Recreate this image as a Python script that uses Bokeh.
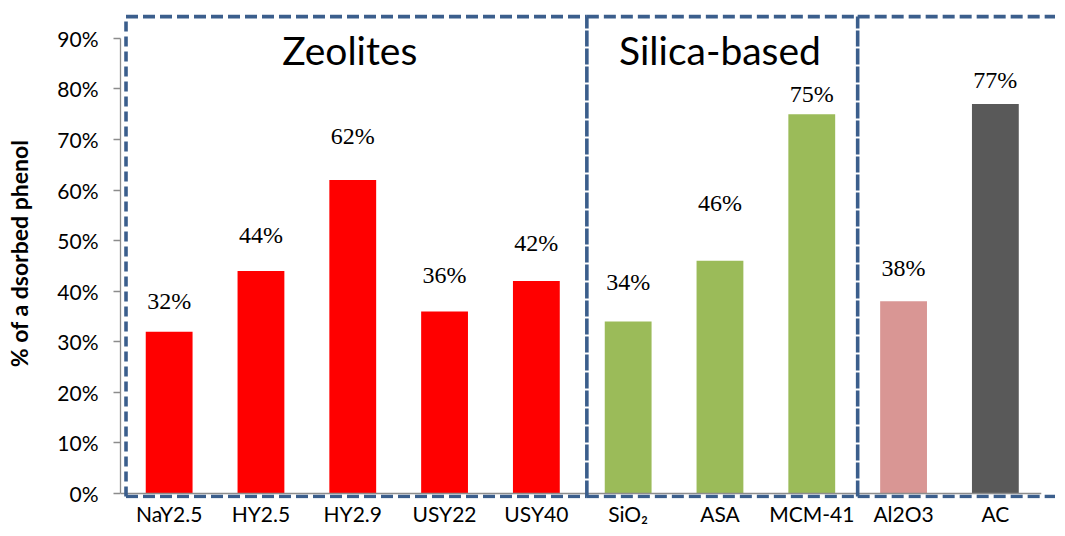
import numpy as np
from bokeh.plotting import figure
from bokeh.models import (Range1d, FixedTicker, NumeralTickFormatter,
                          ColumnDataSource, LabelSet, Label)
from bokeh.embed import file_html
from bokeh.resources import INLINE

# ---- data ----
categories = ["NaY2.5", "HY2.5", "HY2.9", "USY22", "USY40",
              "SiO\u2082", "ASA", "MCM-41", "Al2O3", "AC"]
values = [0.32, 0.44, 0.62, 0.36, 0.42, 0.34, 0.46, 0.75, 0.38, 0.77]
value_labels = ["32%", "44%", "62%", "36%", "42%", "34%", "46%", "75%", "38%", "77%"]
group_names = ["Zeolites", "Silica-based", ""]
group_sizes = [5, 3, 2]
y_ticks = [0.0, 0.1, 0.2, 0.3, 0.4, 0.5, 0.6, 0.7, 0.8, 0.9]

# ---- styles ----
bar_colors = ["#FF0000"] * 5 + ["#9BBB59"] * 3 + ["#D99694", "#595959"]
label_lift = [31, 36, 44, 36, 38, 40, 58, 20, 33, 24]   # px above bar top
SANS = "Lato"
SERIF = "Liberation Serif"
BOX = "#3B5E8C"

n = len(categories)
xs = list(range(n))

p = figure(width=1055, height=528, output_backend="svg", toolbar_location=None,
           x_range=Range1d(-0.53, 9.655), y_range=Range1d(-0.00985, 0.959),
           min_border_left=120, min_border_right=0, min_border_top=8,
           min_border_bottom=28)
p.outline_line_color = None
p.grid.visible = False
p.background_fill_color = "white"
p.border_fill_color = "white"

src = ColumnDataSource(dict(x=xs, top=values, color=bar_colors,
                            lab=value_labels, lift=label_lift))
p.vbar(x="x", top="top", bottom=0, width=0.51, fill_color="color",
       line_color=None, source=src)

# baseline (category axis line)
p.segment(x0=[-0.53], y0=[0], x1=[n - 0.5], y1=[0], line_color="#8C8C8C",
          line_width=1.3)

# group boxes
starts = np.cumsum([0] + group_sizes[:-1])
ends = np.cumsum(group_sizes) - 1
edges = [starts[0] - 0.47, ends[0] + 0.55, ends[1] + 0.5, 10.5]
y_top = 0.943
y_bot = -0.006
for a, b in zip(edges[:-1], edges[1:]):
    p.segment(x0=[a, a], y0=[y_top, y_bot], x1=[b, b], y1=[y_top, y_bot],
              line_color=BOX, line_width=3.6, line_dash="12 5")
p.segment(x0=[edges[0]], y0=[y_bot], x1=[edges[0]], y1=[y_top],
          line_color=BOX, line_width=3.6, line_dash="10 5")
p.segment(x0=edges[1:3], y0=[y_bot] * 2, x1=edges[1:3], y1=[y_top] * 2,
          line_color=BOX, line_width=3.6, line_dash="16 2")

# value labels
p.add_layout(LabelSet(x="x", y="top", text="lab", y_offset="lift",
                      text_align="center", text_baseline="middle",
                      text_font=SERIF, text_font_size="24px",
                      text_color="black", source=src))

# group titles
p.add_layout(Label(x=float(np.mean([starts[0], ends[0]])), y=0.876, x_offset=-3,
                   text=group_names[0], text_align="center", text_baseline="middle",
                   text_font=SANS, text_font_size="39px", text_color="black"))
p.add_layout(Label(x=float(np.mean([starts[1], ends[1]])), y=0.876,
                   text=group_names[1], text_align="center", text_baseline="middle",
                   text_font=SANS, text_font_size="39px", text_color="black"))

# x axis
xa = p.xaxis[0]
xa.ticker = FixedTicker(ticks=xs)
xa.major_label_overrides = {i: c for i, c in enumerate(categories)}
xa.axis_line_alpha = 0
xa.major_tick_out = 0
xa.major_tick_in = 0
xa.minor_tick_out = 0
xa.minor_tick_in = 0
xa.major_label_standoff = 2
xa.major_label_text_font = SANS
xa.major_label_text_font_size = "21px"
xa.major_label_text_color = "black"

# y axis
ya = p.yaxis[0]
ya.ticker = FixedTicker(ticks=y_ticks)
ya.formatter = NumeralTickFormatter(format="0%")
ya.bounds = (0, 0.9)
ya.axis_line_color = "#8C8C8C"
ya.axis_line_width = 1.3
ya.major_tick_line_color = "#8C8C8C"
ya.major_tick_line_width = 1.3
ya.major_tick_out = 7
ya.major_tick_in = 0
ya.minor_tick_out = 0
ya.minor_tick_in = 0
ya.major_label_standoff = 15
ya.major_label_text_font = SANS
ya.major_label_text_font_size = "21px"
ya.major_label_text_color = "black"
ya.axis_label = "% of a dsorbed phenol"
ya.axis_label_text_font = SANS
ya.axis_label_text_font_style = "bold"
ya.axis_label_text_font_size = "23px"
ya.axis_label_text_color = "black"
ya.axis_label_standoff = 21

open("out.html", "w").write(file_html(p, INLINE))
